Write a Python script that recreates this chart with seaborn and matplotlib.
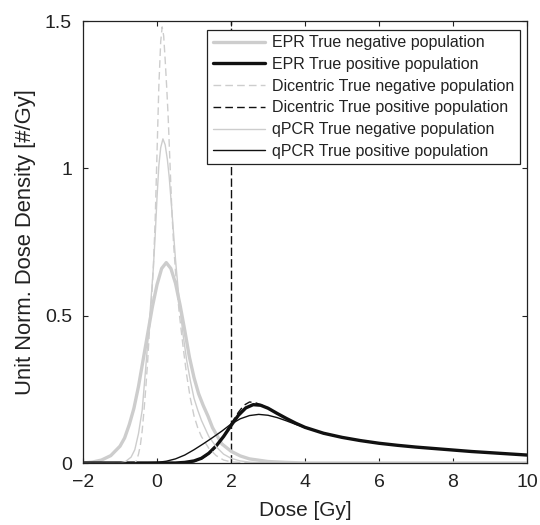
import numpy as np
import pandas as pd
import matplotlib
matplotlib.use("Agg")
import matplotlib.pyplot as plt
import seaborn as sns

# ---------------- data ----------------
epr_neg_x = [-2.0, -1.75, -1.5, -1.25, -1.0, -0.875, -0.75, -0.625, -0.5, -0.375, -0.25, -0.125,
             0.0, 0.125, 0.25, 0.375, 0.5, 0.625, 0.75, 0.875, 1.0, 1.125, 1.25, 1.375, 1.5,
             1.75, 2.0, 2.25, 2.5, 3.0, 3.5, 4.0, 10.0]
epr_neg_y = [0.0, 0.003, 0.01, 0.025, 0.057, 0.085, 0.13, 0.185, 0.26, 0.35, 0.44, 0.53,
             0.605, 0.66, 0.68, 0.66, 0.61, 0.535, 0.45, 0.36, 0.29, 0.235, 0.195, 0.16, 0.12,
             0.065, 0.04, 0.024, 0.014, 0.005, 0.002, 0.0, 0.0]

dic_neg_x = [-2.0, -0.6, -0.55, -0.5, -0.45, -0.4, -0.35, -0.3, -0.25, -0.2, -0.15, -0.1, -0.05,
             0.0, 0.05, 0.1, 0.14, 0.18, 0.22, 0.26, 0.3, 0.35, 0.4, 0.45, 0.5, 0.6, 0.7, 0.8,
             0.9, 1.0, 1.1, 1.2, 1.4, 1.6, 1.8, 2.0, 2.5, 10.0]
dic_neg_y = [0.0, 0.0, 0.01, 0.03, 0.06, 0.11, 0.18, 0.26, 0.35, 0.46, 0.55, 0.66, 0.82,
             1.05, 1.28, 1.43, 1.48, 1.45, 1.37, 1.28, 1.18, 1.02, 0.86, 0.74, 0.65, 0.51, 0.40, 0.30,
             0.22, 0.16, 0.12, 0.09, 0.05, 0.025, 0.01, 0.004, 0.0, 0.0]

qpcr_neg_x = [-2.0, -1.0, -0.85, -0.7, -0.6, -0.5, -0.4, -0.3, -0.2, -0.1, -0.05, 0.0, 0.05, 0.1,
              0.16, 0.22, 0.28, 0.33, 0.4, 0.5, 0.6, 0.7, 0.8, 0.9, 1.0, 1.1, 1.2, 1.4, 1.6, 1.8,
              2.0, 2.25, 2.5, 3.0, 10.0]
qpcr_neg_y = [0.0, 0.0, 0.005, 0.02, 0.045, 0.10, 0.18, 0.33, 0.49, 0.66, 0.77, 0.90, 1.01, 1.07,
              1.10, 1.08, 1.03, 0.97, 0.86, 0.69, 0.55, 0.44, 0.35, 0.28, 0.22, 0.18, 0.145, 0.09, 0.055, 0.03,
              0.016, 0.007, 0.003, 0.0, 0.0]

epr_pos_x = [-2.0, 0.5, 0.75, 1.0, 1.2, 1.4, 1.6, 1.8, 2.0, 2.2, 2.4, 2.6, 2.8, 3.0, 3.25, 3.5, 3.75,
             4.0, 4.5, 5.0, 5.5, 6.0, 6.5, 7.0, 7.5, 8.0, 8.5, 9.0, 9.5, 10.0]
epr_pos_y = [0.0, 0.0, 0.002, 0.007, 0.016, 0.033, 0.058, 0.09, 0.127, 0.162, 0.187, 0.198, 0.196, 0.186,
             0.168, 0.151, 0.135, 0.121, 0.101, 0.087, 0.076, 0.067, 0.060, 0.054, 0.049, 0.044, 0.039,
             0.035, 0.031, 0.027]

dic_pos_x = [-2.0, 0.8, 1.0, 1.2, 1.4, 1.6, 1.8, 2.0, 2.2, 2.35, 2.5, 2.65, 2.8, 3.0, 3.25, 3.5, 3.75,
             4.0, 4.5, 5.0, 5.5, 6.0, 6.5, 7.0, 7.5, 8.0, 8.5, 9.0, 9.5, 10.0]
dic_pos_y = [0.0, 0.0, 0.005, 0.014, 0.031, 0.057, 0.092, 0.133, 0.172, 0.196, 0.207, 0.205, 0.198, 0.187,
             0.168, 0.151, 0.135, 0.121, 0.101, 0.087, 0.076, 0.067, 0.060, 0.054, 0.049, 0.044, 0.039,
             0.035, 0.031, 0.027]

qpcr_pos_x = [-2.0, -0.5, 0.0, 0.25, 0.5, 0.75, 1.0, 1.25, 1.5, 1.75, 2.0, 2.25, 2.5, 2.75, 3.0, 3.25,
              3.5, 3.75, 4.0, 4.5, 5.0, 5.5, 6.0, 6.5, 7.0, 7.5, 8.0, 8.5, 9.0, 9.5, 10.0]
qpcr_pos_y = [0.0, 0.0, 0.002, 0.006, 0.014, 0.027, 0.045, 0.065, 0.086, 0.108, 0.132, 0.150, 0.161, 0.165,
              0.162, 0.154, 0.143, 0.131, 0.120, 0.101, 0.087, 0.076, 0.067, 0.060, 0.054, 0.049, 0.044,
              0.039, 0.035, 0.031, 0.027]

threshold_dose = 2.0

labels = ["EPR True negative population", "EPR True positive population",
          "Dicentric True negative population", "Dicentric True positive population",
          "qPCR True negative population", "qPCR True positive population"]
x_ticks = [-2, 0, 2, 4, 6, 8, 10]
y_ticks = [0, 0.5, 1, 1.5]
y_tick_labels = ["0", "0.5", "1", "1.5"]

# ---------------- style ----------------
sns.set_style("ticks")
plt.rcParams['font.family'] = ['Liberation Sans', 'DejaVu Sans']

GRAY = "#cdcdcd"
BLACK = "#111111"
DASH = (0, (5.5, 3))

fig = plt.figure(figsize=(5.4, 5.25), dpi=100)
ax = fig.add_axes([83 / 540, 62 / 525, 444 / 540, 442 / 525])

series = [
    (labels[0], epr_neg_x, epr_neg_y, GRAY, 2.4, "-"),
    (labels[1], epr_pos_x, epr_pos_y, BLACK, 2.4, "-"),
    (labels[2], dic_neg_x, dic_neg_y, GRAY, 1.0, DASH),
    (labels[3], dic_pos_x, dic_pos_y, BLACK, 1.0, DASH),
    (labels[4], qpcr_neg_x, qpcr_neg_y, GRAY, 1.0, "-"),
    (labels[5], qpcr_pos_x, qpcr_pos_y, BLACK, 1.0, "-"),
]
for lab, xs, ys, col, lw, ls in series:
    df = pd.DataFrame({"dose": xs, "density": ys})
    sns.lineplot(data=df, x="dose", y="density", ax=ax, color=col, linewidth=lw,
                 linestyle=ls, label=lab, sort=False, estimator=None)

ax.axvline(threshold_dose, color=BLACK, linewidth=1.0, linestyle=(0, (6, 2.3)), zorder=1)

ax.set_xlim(-2, 10)
ax.set_ylim(0, 1.5)
ax.set_xticks(x_ticks)
ax.set_yticks(y_ticks)
ax.set_yticklabels(y_tick_labels)
ax.tick_params(direction="in", length=3.6, width=0.8, top=True, right=True,
               labelsize=14, pad=8, colors="#222222")
for sp in ax.spines.values():
    sp.set_color("#222222")
    sp.set_linewidth(0.9)

ax.set_xlabel("Dose [Gy]", fontsize=15, labelpad=7, color="#222222")
ax.set_ylabel("Unit Norm. Dose Density [#/Gy]", fontsize=15.8, labelpad=6, color="#222222")

leg = ax.legend(loc="upper right", bbox_to_anchor=(520 / 540, 1 - 30 / 525),
                bbox_transform=fig.transFigure, borderaxespad=0, fontsize=11.5,
                handlelength=3.3, handletextpad=0.45, labelspacing=0.42, borderpad=0.33,
                frameon=True, fancybox=False, framealpha=1, edgecolor="#222222")
leg.get_frame().set_linewidth(0.9)
for t in leg.get_texts():
    t.set_color("#222222")

fig.savefig("out.png", dpi=100)
